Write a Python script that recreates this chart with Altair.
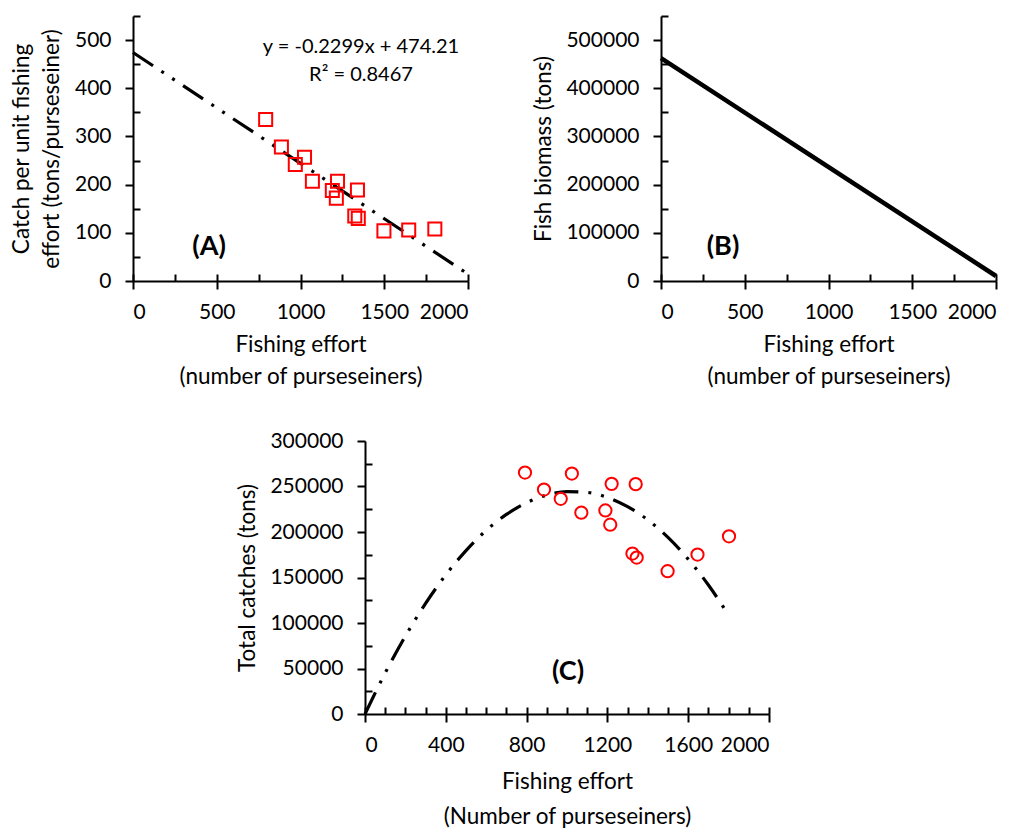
import altair as alt
import pandas as pd

# ---- data ----
effort = [792, 886, 1024, 969, 1071, 1221, 1190, 1214, 1340, 1324, 1345, 1498, 1646, 1802]
cpue = [335, 278, 257, 242, 207, 207, 188, 172, 189, 135, 130, 104, 106, 108]
catch = [265300, 246700, 264200, 236500, 221200, 252900, 223700, 208000,
         252600, 176300, 171900, 156900, 175200, 195300]

trend_a_x = [0, 2000]
trend_a_y = [474.2, 14.4]

biomass_x = [0, 2000]
biomass_y = [462600, 10400]

curve_x = [0, 100, 200, 300, 400, 500, 600, 700, 800, 900, 1000,
           1100, 1200, 1300, 1400, 1500, 1600, 1700, 1800]
curve_y = [0, 45100, 85600, 121600, 152900, 179600, 201800, 219300, 232200,
           240600, 244300, 243500, 238000, 227900, 213300, 194000, 170200,
           141700, 108700]

eq_line1 = "y = -0.2299x + 474.21"
eq_line2 = "R² = 0.8467"

FONT = "Lato"
DASH = [24, 10, 3, 10, 3, 10]
LABEL_FS = 21
TITLE_FS = 22.5

pts = pd.DataFrame({"effort": effort, "cpue": cpue, "catch": catch})
lineA = pd.DataFrame({"x": trend_a_x, "y": trend_a_y})
lineB = pd.DataFrame({"x": biomass_x, "y": biomass_y})
curveC = pd.DataFrame({"x": curve_x, "y": curve_y})


def major_axis_x(values, title, lh=32, tp=11):
    return alt.Axis(values=values, title=title, tickSize=8, labelPadding=12,
                    titlePadding=tp, titleLineHeight=lh, format="d")


def major_axis_y(values, title, lh=30, tp=10):
    return alt.Axis(values=values, title=title, tickSize=8, labelPadding=14,
                    titlePadding=tp, titleLineHeight=lh, format="d")


def minor_layer(W, H, xdom, ydom, xvals, yvals):
    d = pd.DataFrame({"x": [xdom[0]], "y": [ydom[0]]})
    return alt.Chart(d).mark_point(opacity=0).encode(
        x=alt.X("x:Q", scale=alt.Scale(domain=xdom, nice=False),
                axis=alt.Axis(orient="top", offset=-H, values=xvals, labels=False,
                              domain=False, tickSize=7, title=None, grid=False)),
        y=alt.Y("y:Q", scale=alt.Scale(domain=ydom, nice=False),
                axis=alt.Axis(orient="right", offset=-W, values=yvals, labels=False,
                              domain=False, tickSize=7, title=None, grid=False)),
    )


def text_at(txt, px, py, size, weight="normal"):
    return alt.Chart(pd.DataFrame({"t": [txt]})).mark_text(
        font=FONT, fontSize=size, fontWeight=weight, color="black"
    ).encode(text="t:N", x=alt.value(px), y=alt.value(py))


# ---- Panel A ----
WA, HA = 335, 265
xdomA, ydomA = [0, 2000], [0, 550]
xsA = alt.Scale(domain=xdomA, nice=False)
ysA = alt.Scale(domain=ydomA, nice=False)

ptsA = alt.Chart(pts).mark_point(shape="square", filled=False, color="#FF0000",
                                 size=170, strokeWidth=2, opacity=1).encode(
    x=alt.X("effort:Q", scale=xsA,
            axis=major_axis_x([0, 500, 1000, 1500, 2000],
                              ["Fishing effort", "(number of purseseiners)"])),
    y=alt.Y("cpue:Q", scale=ysA,
            axis=major_axis_y([0, 100, 200, 300, 400, 500],
                              ["Catch per unit fishing", "effort (tons/purseseiner)"], tp=11)),
)
lnA = alt.Chart(lineA).mark_line(color="black", strokeWidth=3.2, strokeDash=DASH).encode(
    x=alt.X("x:Q", scale=xsA, axis=None), y=alt.Y("y:Q", scale=ysA, axis=None))
A = alt.layer(lnA, ptsA,
              text_at(eq_line1, 228, 31, 20), text_at(eq_line2, 228, 59, 20),
              text_at("(A)", 76, 231, 27, "bold"),
              minor_layer(WA, HA, xdomA, ydomA,
                          [0, 250, 500, 750, 1000, 1250, 1500, 1750, 2000],
                          [50, 150, 250, 350, 450, 550])
              ).resolve_axis(x="independent", y="independent").properties(width=WA, height=HA)

# ---- Panel B ----
WB, HB = 335, 265
xdomB, ydomB = [0, 2000], [0, 550000]
xsB = alt.Scale(domain=xdomB, nice=False)
ysB = alt.Scale(domain=ydomB, nice=False)
lnB = alt.Chart(lineB).mark_line(color="black", strokeWidth=4.5).encode(
    x=alt.X("x:Q", scale=xsB,
            axis=major_axis_x([0, 500, 1000, 1500, 2000],
                              ["Fishing effort", "(number of purseseiners)"])),
    y=alt.Y("y:Q", scale=ysB,
            axis=major_axis_y([0, 100000, 200000, 300000, 400000, 500000],
                              "Fish biomass (tons)")),
)
B = alt.layer(lnB, text_at("(B)", 62, 231, 27, "bold"),
              minor_layer(WB, HB, xdomB, ydomB,
                          [0, 250, 500, 750, 1000, 1250, 1500, 1750, 2000],
                          [50000, 150000, 250000, 350000, 450000, 550000])
              ).resolve_axis(x="independent", y="independent").properties(width=WB, height=HB)

# ---- Panel C ----
WC, HC = 404, 273
xdomC, ydomC = [0, 2000], [0, 300000]
xsC = alt.Scale(domain=xdomC, nice=False)
ysC = alt.Scale(domain=ydomC, nice=False)
ptsC = alt.Chart(pts).mark_point(shape="circle", filled=False, color="#FF0000",
                                 size=150, strokeWidth=2, opacity=1).encode(
    x=alt.X("effort:Q", scale=xsC,
            axis=major_axis_x([0, 400, 800, 1200, 1600, 2000],
                              ["Fishing effort", "(Number of purseseiners)"], lh=35, tp=15)),
    y=alt.Y("catch:Q", scale=ysC,
            axis=major_axis_y([0, 50000, 100000, 150000, 200000, 250000, 300000],
                              "Total catches (tons)")),
)
lnC = alt.Chart(curveC).mark_line(color="black", strokeWidth=3.2, strokeDash=DASH,
                                  interpolate="monotone").encode(
    x=alt.X("x:Q", scale=xsC, axis=None), y=alt.Y("y:Q", scale=ysC, axis=None))
C = alt.layer(lnC, ptsC, text_at("(C)", 203, 231, 27, "bold"),
              minor_layer(WC, HC, xdomC, ydomC, list(range(0, 2100, 100)),
                          [25000, 75000, 125000, 175000, 225000, 275000])
              ).resolve_axis(x="independent", y="independent").properties(width=WC, height=HC)

spacer = alt.Chart(pd.DataFrame({"x": [0]})).mark_point(opacity=0).encode(
    x=alt.X("x:Q", axis=None), y=alt.Y("x:Q", axis=None)).properties(width=103, height=10)

top = alt.hconcat(A, B, spacing=57)
bottom = alt.hconcat(spacer, C, spacing=0)
chart = alt.vconcat(top, bottom, spacing=42).configure_view(stroke=None).configure_axis(
    labelFont=FONT, labelFontSize=LABEL_FS, labelColor="black",
    titleFont=FONT, titleFontSize=TITLE_FS, titleFontWeight="normal", titleColor="black",
    domainColor="black", domainWidth=2, tickColor="black", tickWidth=2, grid=False,
).properties(padding={"left": 2, "top": 7, "right": 0, "bottom": 2})

chart.save("out.html", embed_options={"renderer": "svg", "actions": False})
